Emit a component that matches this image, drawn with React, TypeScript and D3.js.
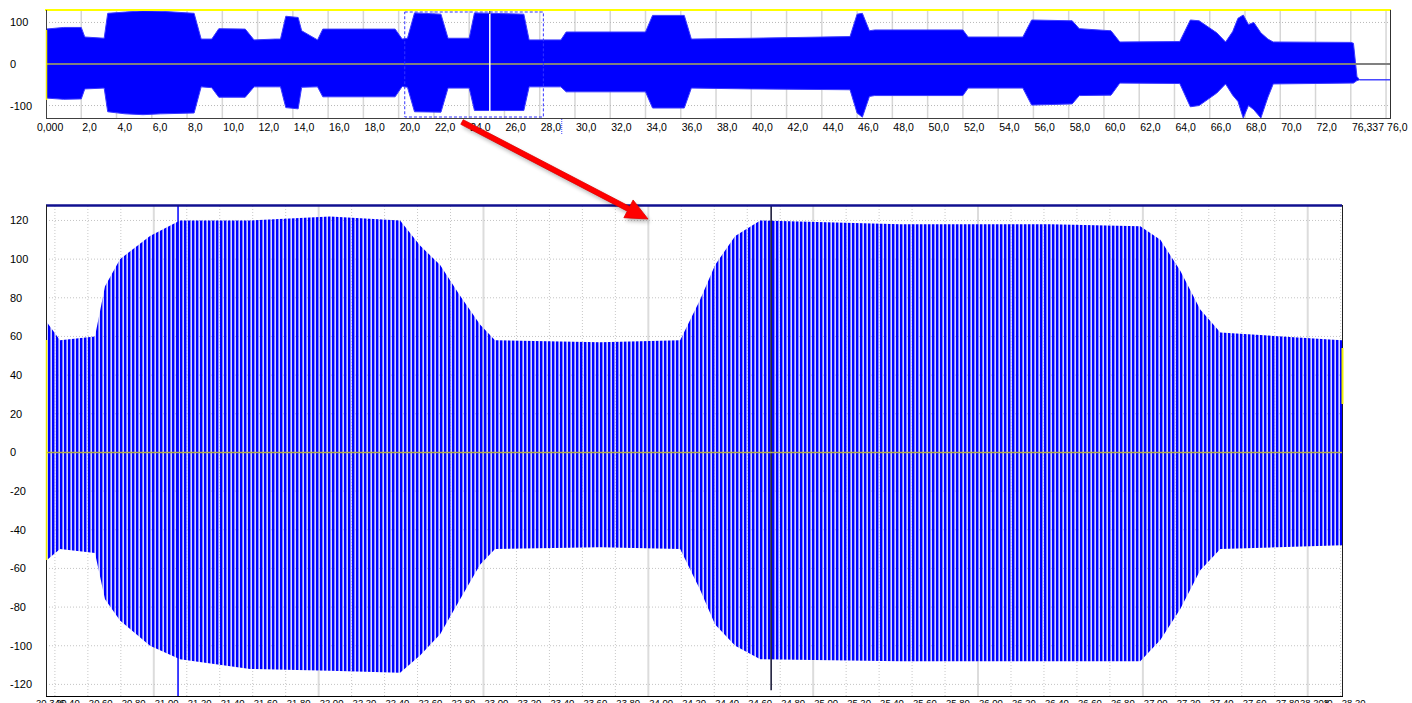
import React from "react";
import * as d3 from "d3";

// overview trace: envelope of the recording (seconds, upper peak, lower peak)
const overviewTime = [0, 1.0, 2.0, 2.2, 3.3, 3.5, 4.5, 5.5, 6.5, 8.4, 8.8, 9.4, 9.8, 11.3, 11.8, 13.0, 13.3, 13.6, 14.3, 14.5, 15.4, 15.7, 19.8, 20.2, 20.5, 20.9, 22.4, 22.8, 24.0, 24.3, 27.1, 27.4, 29.2, 29.5, 34.0, 34.4, 36.2, 36.6, 40.0, 45.6, 46.0, 46.3, 46.7, 47.0, 52.0, 52.3, 55.4, 55.9, 58.2, 58.6, 60.4, 60.9, 64.3, 64.9, 65.4, 66.4, 66.9, 67.3, 67.6, 67.9, 68.2, 68.5, 68.9, 69.3, 69.6, 74.0, 74.15, 74.35, 74.5, 76.337];
const overviewUpper = [84, 88, 88, 65, 62, 122, 125, 128, 127, 122, 60, 60, 85, 84, 58, 60, 60, 115, 112, 80, 58, 84, 84, 60, 62, 123, 120, 62, 62, 123, 120, 58, 58, 77, 77, 117, 117, 60, 62, 66, 120, 122, 80, 82, 82, 65, 65, 106, 104, 85, 80, 53, 54, 106, 104, 75, 53, 78, 110, 118, 95, 100, 75, 60, 53, 52, 50, -30, -38, -38];
const overviewLower = [-82, -85, -84, -60, -58, -115, -120, -122, -120, -118, -55, -57, -80, -80, -55, -55, -55, -105, -108, -56, -55, -79, -79, -54, -56, -115, -116, -58, -58, -112, -112, -55, -55, -67, -67, -106, -106, -58, -60, -62, -118, -128, -78, -76, -76, -58, -58, -99, -96, -76, -75, -46, -47, -103, -100, -70, -48, -75, -90, -130, -100, -110, -130, -80, -48, -46, -46, -40, -38, -38];

// detail trace: the selected window 20.346 .. 28.208 s
const detailTime = [20.346, 20.431, 20.643, 20.704, 20.795, 20.977, 21.159, 21.584, 22.069, 22.494, 22.615, 22.737, 22.858, 22.98, 23.07, 23.708, 24.193, 24.314, 24.405, 24.527, 24.679, 25.528, 26.438, 26.984, 27.106, 27.227, 27.348, 27.47, 28.208];
const detailUpper = [68, 58, 60, 86, 100, 112, 120, 120, 122, 120, 107, 97, 81, 66, 58, 57, 58, 79, 97, 112, 120, 118, 118, 117, 110, 94, 74, 62, 58];
const detailLower = [-56, -50, -52, -76, -87, -100, -107, -112, -113, -114, -105, -94, -76, -58, -50, -49, -50, -71, -89, -100, -107, -108, -108, -108, -97, -81, -61, -50, -48];

// single tall peaks in the detail trace
const spikeTime = [21.147, 24.745];
const spikeHigh = [128, 128];
const spikeLow = [-126, -123];
const spikeColor = ["#0000ff", "#101030"];

const overviewDomain = [0, 76.337];
const overviewYTicks = [100, 0, -100];
const overviewTickStep = 2;
const detailDomain = [20.346, 28.208];
const detailYTicks = [120, 100, 80, 60, 40, 20, 0, -20, -40, -60, -80, -100, -120];
const detailTickStep = 0.2;
const cursorTime = 25.17;
const markerTime = 29.25;

const font = "'Liberation Sans', Arial, sans-serif";
const blue = "#0000ff";

export default function App() {
  // overview panel
  const xTop = d3.scaleLinear().domain(overviewDomain).range([46, 1392]);
  const yTop = d3.scaleLinear().domain([-130, 130]).range([118, 10]);
  // detail panel
  const xBot = d3.scaleLinear().domain(detailDomain).range([46, 1342]);
  const yBot = d3.scaleLinear().domain([-126, 128]).range([696, 205]);

  const topIdx = overviewTime.map((_, i) => i);
  const botIdx = detailTime.map((_, i) => i);

  const topArea = d3
    .area<number>()
    .x((i) => xTop(overviewTime[i]))
    .y0((i) => yTop(overviewLower[i]))
    .y1((i) => yTop(overviewUpper[i]));

  const botArea = d3
    .area<number>()
    .x((i) => xBot(detailTime[i]))
    .y0((i) => yBot(detailLower[i]))
    .y1((i) => yBot(detailUpper[i]));

  const topTicks = d3.range(overviewTickStep, 76.01, overviewTickStep);
  const botTicks = d3.range(20.4, 28.21, detailTickStep).map((v) => +v.toFixed(2));

  // arrow
  const a0 = [462, 122];
  const a1 = [648, 219];
  const dx = a1[0] - a0[0];
  const dy = a1[1] - a0[1];
  const len = Math.hypot(dx, dy);
  const ux = dx / len, uy = dy / len;
  const nx = -uy, ny = ux;
  const hl = 22, hw = 10, sw = 2.6;
  const bx = a1[0] - ux * hl, by = a1[1] - uy * hl;
  const arrowPts = [
    [a0[0] + nx * sw, a0[1] + ny * sw],
    [bx + nx * sw, by + ny * sw],
    [bx + nx * hw, by + ny * hw],
    a1,
    [bx - nx * hw, by - ny * hw],
    [bx - nx * sw, by - ny * sw],
    [a0[0] - nx * sw, a0[1] - ny * sw],
  ]
    .map((p) => p.join(","))
    .join(" ");

  return (
    <svg
      width={1412}
      height={703}
      style={{ position: "absolute", left: 0, top: 0, background: "#fff" }}
      fontFamily={font}
    >
      <defs>
        <pattern id="bars" width="4" height="8" patternUnits="userSpaceOnUse">
          <rect x="0" width="2.4" height="8" fill={blue} />
          <rect x="2.4" width="0.9" height="8" fill="#7070ff" />
        </pattern>
        <filter id="shadow" x="-20%" y="-20%" width="140%" height="140%">
          <feGaussianBlur stdDeviation="2" />
        </filter>
        <clipPath id="clipTop">
          <rect x={46} y={10} width={1344} height={108} />
        </clipPath>
      </defs>

      {/* ---------- overview panel ---------- */}
      {topTicks.map((v) => (
        <line key={"tg" + v} x1={xTop(v)} x2={xTop(v)} y1={10} y2={118} stroke="#d6d6d6" strokeWidth={1.5} />
      ))}
      {[100, -100].map((v) => (
        <line key={"th" + v} x1={46} x2={1390} y1={yTop(v)} y2={yTop(v)} stroke="#b8b8b8" strokeDasharray="1,2" />
      ))}
      <g clipPath="url(#clipTop)">
        <path d={topArea(topIdx) || ""} fill={blue} stroke="#3a3aff" strokeWidth={1} />
      </g>
      <line x1={46} x2={1390} y1={yTop(0)} y2={yTop(0)} stroke="#808080" strokeWidth={2} />
      <line x1={xTop(cursorTime)} x2={xTop(cursorTime)} y1={11} y2={117} stroke="#ffffff" strokeWidth={1.5} />
      <line x1={xTop(cursorTime)} x2={xTop(cursorTime)} y1={10} y2={14} stroke="#202020" strokeWidth={1} />
      <rect
        x={xTop(detailDomain[0])}
        y={12}
        width={xTop(detailDomain[1]) - xTop(detailDomain[0])}
        height={105}
        fill="none"
        stroke="#3333ff"
        strokeDasharray="3,2"
      />
      <line x1={45} x2={1391} y1={10} y2={10} stroke="#ffff00" strokeWidth={2} />
      <line x1={46.5} x2={46.5} y1={10} y2={118} stroke="#404040" />
      <line x1={46.5} x2={46.5} y1={30} y2={100} stroke="#e8e800" strokeWidth={1.5} />
      <line x1={1390.5} x2={1390.5} y1={10} y2={118} stroke="#303030" />
      <line x1={46} x2={1391} y1={118.5} y2={118.5} stroke="#404040" />
      <line x1={xTop(markerTime)} x2={xTop(markerTime)} y1={119} y2={135} stroke="#4444ff" strokeDasharray="1,1" />

      {overviewYTicks.map((v) => (
        <text key={"ty" + v} x={10} y={yTop(v) + 4} fontSize={11} fill="#000">
          {v}
        </text>
      ))}
      {topTicks.map((v) => (
        <text key={"tx" + v} x={xTop(v) + 1} y={131} fontSize={10.5} fill="#000">
          {v.toFixed(1).replace(".", ",")}
        </text>
      ))}
      <rect x={34} y={121} width={34} height={12} fill="#fff" />
      <text x={37} y={131} fontSize={10.5}>
        {overviewDomain[0].toFixed(3).replace(".", ",")}
      </text>
      <rect x={1349} y={121} width={36} height={12} fill="#fff" />
      <text x={1384} y={131} fontSize={10.5} textAnchor="end">
        {overviewDomain[1].toFixed(3).replace(".", ",")}
      </text>

      {/* ---------- detail panel ---------- */}
      {botTicks.map((v) => {
        const major = Math.abs(v - Math.round(v)) < 1e-6;
        return (
          <line
            key={"bg" + v}
            x1={xBot(v)}
            x2={xBot(v)}
            y1={206}
            y2={696}
            stroke={major ? "#dcdcdc" : "#c8c8c8"}
            strokeWidth={major ? 2 : 1}
            strokeDasharray={major ? undefined : "1,2"}
          />
        );
      })}
      {detailYTicks.map((v) => (
        <line key={"bh" + v} x1={46} x2={1342} y1={yBot(v)} y2={yBot(v)} stroke="#c4c4c4" strokeDasharray="1,2" />
      ))}
      <path d={botArea(botIdx) || ""} fill="url(#bars)" />
      {spikeTime.map((t, i) => (
        <line
          key={"sp" + i}
          x1={xBot(t)}
          x2={xBot(t)}
          y1={yBot(spikeHigh[i])}
          y2={yBot(spikeLow[i])}
          stroke={spikeColor[i]}
          strokeWidth={1.5}
        />
      ))}
      <line x1={46} x2={1342} y1={yBot(0)} y2={yBot(0)} stroke="#b0a848" strokeWidth={1.5} />
      <line x1={46} x2={1342} y1={205.5} y2={205.5} stroke="#101090" strokeWidth={2.5} />
      <line x1={46.5} x2={46.5} y1={205} y2={696} stroke="#202020" />
      <line x1={46.5} x2={46.5} y1={340} y2={560} stroke="#e8e800" strokeWidth={1.5} />
      <line x1={1342.5} x2={1342.5} y1={205} y2={696} stroke="#202020" />
      <line x1={1342.5} x2={1342.5} y1={348} y2={404} stroke="#f0f000" strokeWidth={2} />
      <line x1={46} x2={1343} y1={696.5} y2={696.5} stroke="#000" />

      {detailYTicks.map((v) => (
        <text key={"by" + v} x={10} y={yBot(v) + 4} fontSize={11} fill="#000">
          {v}
        </text>
      ))}
      {botTicks.map((v) => (
        <text key={"bx" + v} x={xBot(v) + 1} y={706} fontSize={9.5} fill="#000">
          {v.toFixed(2)}
        </text>
      ))}
      <rect x={35} y={697} width={22} height={8} fill="#fff" />
      <text x={36} y={706} fontSize={9.5}>
        {detailDomain[0].toFixed(3)}
      </text>
      <rect x={1299} y={697} width={26} height={8} fill="#fff" />
      <text x={1300} y={706} fontSize={9.5}>
        {detailDomain[1].toFixed(3)}
      </text>

      {/* ---------- arrow ---------- */}
      <polygon points={arrowPts} transform="translate(2,3)" fill="#000" opacity={0.3} filter="url(#shadow)" />
      <polygon points={arrowPts} fill="#ff0000" stroke="#e00000" strokeWidth={0.8} />
    </svg>
  );
}
